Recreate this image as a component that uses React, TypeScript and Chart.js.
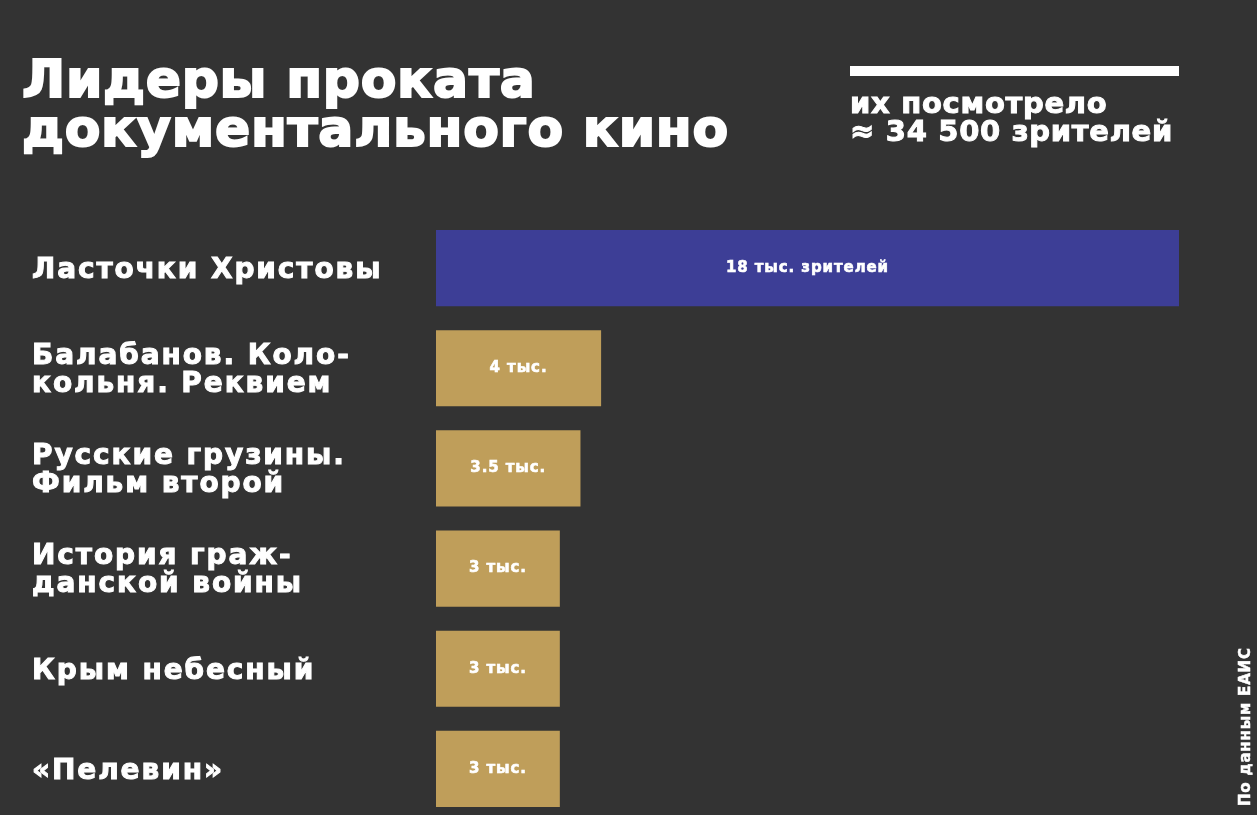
import React, { useEffect, useRef } from "react";
import { Chart, registerables } from "chart.js";

Chart.register(...registerables);

const titleLines = ["Лидеры проката", "документального кино"];
const subtitleLines = ["их посмотрело", "≈ 34 500 зрителей"];
const sourceText = "По данным ЕАИС";
const films: string[][] = [
  ["Ласточки Христовы"],
  ["Балабанов. Коло-", "кольня. Реквием"],
  ["Русские грузины.", "Фильм второй"],
  ["История граж-", "данской войны"],
  ["Крым небесный"],
  ["«Пелевин»"],
];
const viewersThousands = [18, 4, 3.5, 3, 3, 3];
const valueLabels = ["18 тыс. зрителей", "4 тыс.", "3.5 тыс.", "3 тыс.", "3 тыс.", "3 тыс."];

const BG = "#333333";
const BLUE = "#3d3e96";
const GOLD = "#bf9e5a";
const FONT = "'DejaVu Sans', sans-serif";

const W = 1257;
const H = 822;

const decorPlugin = {
  id: "decor",
  beforeDraw(chart: any) {
    const ctx = chart.ctx;
    ctx.save();
    ctx.fillStyle = BG;
    ctx.fillRect(0, 0, chart.width, chart.height);
    ctx.restore();
  },
  afterDatasetsDraw(chart: any) {
    const ctx = chart.ctx;
    const meta = chart.getDatasetMeta(0);
    ctx.save();
    ctx.letterSpacing = "0.9px";
    ctx.fillStyle = "#ffffff";
    ctx.strokeStyle = "#ffffff";
    ctx.lineWidth = 0.6;
    ctx.textAlign = "center";
    ctx.textBaseline = "middle";
    ctx.font = `bold 15px ${FONT}`;
    meta.data.forEach((bar: any, i: number) => {
      const cx = (bar.x + bar.base) / 2;
      ctx.fillText(valueLabels[i], cx, bar.y);
      ctx.strokeText(valueLabels[i], cx, bar.y);
    });
    ctx.restore();

    // category labels placed on the y scale's tick positions
    const yScale = chart.scales.y;
    ctx.save();
    ctx.letterSpacing = "1.9px";
    ctx.fillStyle = "#ffffff";
    ctx.strokeStyle = "#ffffff";
    ctx.lineWidth = 1;
    ctx.textAlign = "left";
    ctx.textBaseline = "alphabetic";
    ctx.font = `bold 28px ${FONT}`;
    const lh = 27.5;
    films.forEach((lines, i) => {
      const y = yScale.getPixelForTick(i);
      const first = y + 10 - ((lines.length - 1) * lh) / 2 - (lines.length > 1 ? 0.5 : 0);
      lines.forEach((t, j) => {
        const by = first + j * lh;
        ctx.fillText(t, yScale.left, by);
        ctx.strokeText(t, yScale.left, by);
      });
    });
    ctx.restore();
  },
  afterDraw(chart: any) {
    const ctx = chart.ctx;
    ctx.save();
    ctx.fillStyle = "#ffffff";
    ctx.strokeStyle = "#ffffff";
    ctx.textAlign = "left";
    ctx.textBaseline = "alphabetic";
    // title
    ctx.letterSpacing = "0.7px";
    ctx.lineWidth = 2;
    ctx.font = `bold 52px ${FONT}`;
    titleLines.forEach((t, i) => {
      ctx.fillText(t, 22, 97 + i * 49);
      ctx.strokeText(t, 22, 97 + i * 49);
    });
    // white rule
    ctx.fillRect(850, 66, 329, 10);
    // subtitle
    ctx.letterSpacing = "0.7px";
    ctx.lineWidth = 1;
    ctx.font = `bold 29px ${FONT}`;
    subtitleLines.forEach((t, i) => {
      ctx.fillText(t, 850, 113 + i * 28);
      ctx.strokeText(t, 850, 113 + i * 28);
    });
    // source
    ctx.translate(1246, 806);
    ctx.rotate(-Math.PI / 2);
    ctx.letterSpacing = "0.8px";
    ctx.lineWidth = 0.5;
    ctx.font = `bold 15px ${FONT}`;
    ctx.textBaseline = "middle";
    ctx.fillText(sourceText, 0, 0);
    ctx.strokeText(sourceText, 0, 0);
    ctx.restore();
  },
};

export default function App() {
  const ref = useRef<HTMLCanvasElement | null>(null);
  useEffect(() => {
    if (!ref.current) return;
    const chart = new Chart(ref.current, {
      type: "bar",
      data: {
        labels: films,
        datasets: [
          {
            data: viewersThousands,
            backgroundColor: viewersThousands.map((_, i) => (i === 0 ? BLUE : GOLD)),
            borderWidth: 0,
            barPercentage: 0.76,
            categoryPercentage: 1,
          },
        ],
      },
      options: {
        indexAxis: "y",
        animation: false,
        responsive: false,
        devicePixelRatio: 1,
        layout: { padding: { top: 218, bottom: 3, left: 32, right: W - 1179 } },
        plugins: { legend: { display: false }, tooltip: { enabled: false }, title: { display: false } },
        scales: {
          x: { display: false, min: 0, max: 18 },
          y: {
            grid: { display: false },
            border: { display: false },
            ticks: { display: false, autoSkip: false },
            afterFit(scale: any) {
              scale.width = 436 - 32;
              scale.paddingTop = 0;
              scale.paddingBottom = 0;
            },
          },
        },
      },
      plugins: [decorPlugin],
    });
    return () => chart.destroy();
  }, []);
  return (
    <div style={{ position: "fixed", left: 0, top: 0, width: W, height: H, background: BG }}>
      <canvas ref={ref} width={W} height={H} style={{ display: "block" }} />
    </div>
  );
}
